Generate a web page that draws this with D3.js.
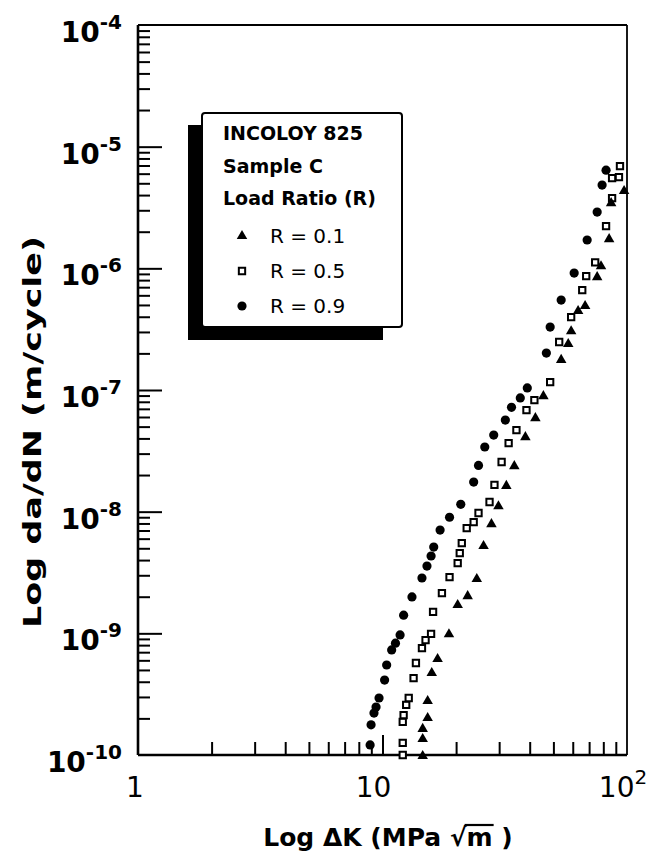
<!DOCTYPE html>
<html>
<head>
<meta charset="utf-8">
<script src="https://cdn.jsdelivr.net/npm/d3@7"></script>
<style>
  body { margin: 0; background: #fff; }
  text { font-family: "DejaVu Sans", "Liberation Sans", Arial, sans-serif; fill: #000; white-space: pre; }
</style>
</head>
<body>
<svg id="chart" width="657" height="863"></svg>
<script>
// Fatigue crack growth rate da/dN versus stress-intensity range ΔK
// for Incoloy 825, sample C, at three load ratios.

const seriesNames = ["R = 0.1", "R = 0.5", "R = 0.9"];

// R = 0.1 (filled triangles)
const dK_R01 = [14.6, 14.6, 14.6, 15.3, 15.3, 15.9, 16.8, 18.7, 20.3, 22.3, 24.3, 25.9, 27.9, 29.8, 32.1, 34.6,
                38.4, 42.2, 45.5, 53.8, 57.5, 59.1, 63.1, 67.4, 75.5, 78.3, 84.5, 86.1, 97.3];
const dadN_R01 = [1.0e-10, 1.38e-10, 1.67e-10, 2.05e-10, 2.83e-10, 4.81e-10, 6.26e-10, 1.0e-9, 1.74e-9, 2.06e-9,
                  2.85e-9, 5.32e-9, 8.05e-9, 1.13e-8, 1.66e-8, 2.41e-8, 4.18e-8, 5.98e-8, 9.08e-8, 1.80e-7,
                  2.43e-7, 3.10e-7, 4.54e-7, 4.99e-7, 8.63e-7, 1.06e-6, 1.77e-6, 3.50e-6, 4.40e-6];

// R = 0.5 (open squares)
const dK_R05 = [12.1, 12.1, 12.1, 12.2, 12.5, 12.8, 13.4, 13.7, 14.5, 15.0, 15.8, 16.1, 17.5, 18.8, 20.3, 20.7,
                21.1, 22.1, 23.6, 24.7, 27.4, 28.7, 30.7, 32.8, 35.3, 38.8, 41.8, 48.5, 52.8, 59.1, 65.6, 68.1,
                74.1, 82.1, 86.9, 86.9, 92.7, 93.6];
const dadN_R05 = [1.0e-10, 1.26e-10, 1.87e-10, 2.13e-10, 2.58e-10, 2.94e-10, 4.29e-10, 5.70e-10, 7.57e-10, 8.8e-10,
                  9.9e-10, 1.50e-9, 2.14e-9, 2.90e-9, 3.78e-9, 4.57e-9, 5.52e-9, 7.33e-9, 8.2e-9, 9.75e-9,
                  1.20e-8, 1.66e-8, 2.56e-8, 3.66e-8, 4.68e-8, 6.84e-8, 8.26e-8, 1.16e-7, 2.48e-7, 3.97e-7,
                  6.62e-7, 8.63e-7, 1.12e-6, 2.22e-6, 3.78e-6, 5.51e-6, 5.61e-6, 6.92e-6];

// R = 0.9 (filled circles)
const dK_R09 = [8.90, 8.98, 9.23, 9.41, 9.68, 10.2, 10.4, 10.9, 11.3, 11.8, 12.2, 13.2, 14.5, 15.2, 15.8, 16.2,
                17.2, 18.8, 20.9, 23.6, 24.7, 26.2, 28.5, 31.8, 33.7, 36.6, 39.1, 46.8, 48.5, 53.8, 60.8, 68.7,
                75.5, 79.1, 82.1];
const dadN_R09 = [1.21e-10, 1.77e-10, 2.21e-10, 2.48e-10, 2.94e-10, 4.13e-10, 5.49e-10, 7.3e-10, 8.3e-10, 9.7e-10,
                  1.41e-9, 1.99e-9, 2.85e-9, 3.57e-9, 4.32e-9, 5.12e-9, 7.06e-9, 9.0e-9, 1.15e-8, 1.75e-8,
                  2.4e-8, 3.4e-8, 4.26e-8, 5.66e-8, 7.2e-8, 8.6e-8, 1.04e-7, 2.01e-7, 3.29e-7, 5.48e-7,
                  9.14e-7, 1.71e-6, 2.90e-6, 4.83e-6, 6.41e-6];

// axis ticks
const xTickValues = [1, 10, 100];
const xTickBases = ["1", "10", "10"];
const xTickExps = ["", "", "2"];
const yTickValues = [1e-4, 1e-5, 1e-6, 1e-7, 1e-8, 1e-9, 1e-10];
const yTickExps = ["-4", "-5", "-6", "-7", "-8", "-9", "-10"];

const legendLines = ["INCOLOY 825", "Sample C", "Load Ratio (R)"];

const svg = d3.select("#chart");
svg.append("rect").attr("width", 657).attr("height", 863).attr("fill", "#fff");

const x = d3.scaleLog().domain([1, 100]).range([138, 627]);
const y = d3.scaleLog().domain([1e-10, 1e-4]).range([755, 25]);
const [x0, x1] = x.range();
const [y0, y1] = y.range();

// minor tick values (2..9 within each decade)
const minorsY = [];
for (let d = -10; d < -4; d++) for (let k = 2; k <= 9; k++) minorsY.push(k * Math.pow(10, d));
const minorsX = [];
for (let d = 0; d < 2; d++) for (let k = 2; k <= 9; k++) minorsX.push(k * Math.pow(10, d));

function styleAxis(g) {
  g.select(".domain").remove();
  g.selectAll(".tick line").attr("stroke", "#000").attr("stroke-width", 2);
}

// inward ticks on the left axis
svg.append("g").attr("transform", `translate(${x0},0)`)
  .call(d3.axisLeft(y).tickValues(minorsY).tickSize(-12).tickFormat(""))
  .call(styleAxis);
svg.append("g").attr("transform", `translate(${x0},0)`)
  .call(d3.axisLeft(y).tickValues([1e-9, 1e-8, 1e-7, 1e-6, 1e-5]).tickSize(-24).tickFormat(""))
  .call(styleAxis);

// inward ticks on the bottom axis
svg.append("g").attr("transform", `translate(0,${y0})`)
  .call(d3.axisBottom(x).tickValues(minorsX).tickSize(-13).tickFormat(""))
  .call(styleAxis);
svg.append("g").attr("transform", `translate(0,${y0})`)
  .call(d3.axisBottom(x).tickValues([10]).tickSize(-20).tickFormat(""))
  .call(styleAxis);

// frame
const frame = svg.append("g").attr("stroke", "#000").attr("fill", "none");
frame.append("line").attr("x1", x0).attr("x2", x0).attr("y1", y1).attr("y2", y0).attr("stroke-width", 2.6);
frame.append("line").attr("x1", x0).attr("x2", x1).attr("y1", y0).attr("y2", y0).attr("stroke-width", 2.6);
frame.append("line").attr("x1", x0).attr("x2", x1).attr("y1", y1).attr("y2", y1).attr("stroke-width", 1.8);
frame.append("line").attr("x1", x1).attr("x2", x1).attr("y1", y1).attr("y2", y0).attr("stroke-width", 1.8);

// y tick labels: 10 with superscript exponent
yTickValues.forEach((v, i) => {
  const t = svg.append("text")
    .attr("x", 122).attr("y", y(v) + 17)
    .attr("text-anchor", "end")
    .attr("font-size", 28).attr("font-weight", "bold");
  t.append("tspan").text("10");
  t.append("tspan").attr("font-size", 20).attr("dy", -13).text(yTickExps[i]);
});

// x tick labels
xTickValues.forEach((v, i) => {
  const t = svg.append("text")
    .attr("x", x(v) + (i === 0 ? -3 : i === 1 ? -9 : -4)).attr("y", 797)
    .attr("text-anchor", "middle")
    .attr("font-size", 28);
  t.append("tspan").text(xTickBases[i]);
  if (xTickExps[i]) t.append("tspan").attr("font-size", 20).attr("dy", -13).text(xTickExps[i]);
});

// axis titles
svg.append("text")
  .attr("transform", "translate(41,432) rotate(-90)")
  .attr("text-anchor", "middle")
  .attr("font-size", 25).attr("font-weight", "bold")
  .attr("textLength", 392).attr("lengthAdjust", "spacingAndGlyphs")
  .text("Log da/dN (m/cycle)");

// x title, built from pieces so the radical can carry a vinculum over m
const xt = svg.append("g").attr("font-size", 25).attr("font-weight", "bold");
const pieces = ["Log ΔK (MPa\u00a0", "√", "m", "\u00a0)"];
const nodes = pieces.map(p => xt.append("text").attr("y", 846).text(p));
const widths = nodes.map(n => n.node().getComputedTextLength());
let px = 388 - d3.sum(widths) / 2;
nodes.forEach((n, i) => { n.attr("x", px); px += widths[i]; });
const rootEnd = +nodes[1].attr("x") + widths[1];
const mEnd = +nodes[2].attr("x") + widths[2];
xt.append("line").attr("x1", rootEnd - 2).attr("x2", mEnd + 1)
  .attr("y1", 825).attr("y2", 825).attr("stroke", "#000").attr("stroke-width", 2.2);

// data markers
const plot = svg.append("g");
const triangle = d3.symbol().type(d3.symbolTriangle).size(48);
const square = d3.symbol().type(d3.symbolSquare).size(40);

plot.selectAll(".r09").data(d3.zip(dK_R09, dadN_R09)).join("circle")
  .attr("class", "r09")
  .attr("cx", d => x(d[0])).attr("cy", d => y(d[1])).attr("r", 4.6).attr("fill", "#000");

plot.selectAll(".r05").data(d3.zip(dK_R05, dadN_R05)).join("path")
  .attr("class", "r05")
  .attr("d", square)
  .attr("transform", d => `translate(${x(d[0])},${y(d[1])})`)
  .attr("fill", "#fff").attr("stroke", "#000").attr("stroke-width", 2);

plot.selectAll(".r01").data(d3.zip(dK_R01, dadN_R01)).join("path")
  .attr("class", "r01")
  .attr("d", triangle)
  .attr("transform", d => `translate(${x(d[0])},${y(d[1]) + 1})`)
  .attr("fill", "#000");

// legend box with drop shadow
const lg = svg.append("g");
lg.append("rect").attr("x", 188).attr("y", 125).attr("width", 195).attr("height", 215).attr("fill", "#000");
lg.append("rect").attr("x", 202).attr("y", 113).attr("width", 200).attr("height", 214)
  .attr("rx", 3).attr("fill", "#fff").attr("stroke", "#000").attr("stroke-width", 2);

legendLines.forEach((s, i) => {
  lg.append("text").attr("x", 223).attr("y", 140 + i * 32.5)
    .attr("font-size", 19).attr("font-weight", "bold").text(s);
});

const legendY = [243, 278, 313];
lg.append("path").attr("d", triangle).attr("transform", `translate(242,${legendY[0] - 7})`).attr("fill", "#000");
lg.append("path").attr("d", square).attr("transform", `translate(242,${legendY[1] - 7})`)
  .attr("fill", "#fff").attr("stroke", "#000").attr("stroke-width", 2);
lg.append("circle").attr("cx", 242).attr("cy", legendY[2] - 7).attr("r", 4.6).attr("fill", "#000");
seriesNames.forEach((s, i) => {
  lg.append("text").attr("x", 270).attr("y", legendY[i])
    .attr("font-size", 20).text(s);
});
</script>
</body>
</html>
